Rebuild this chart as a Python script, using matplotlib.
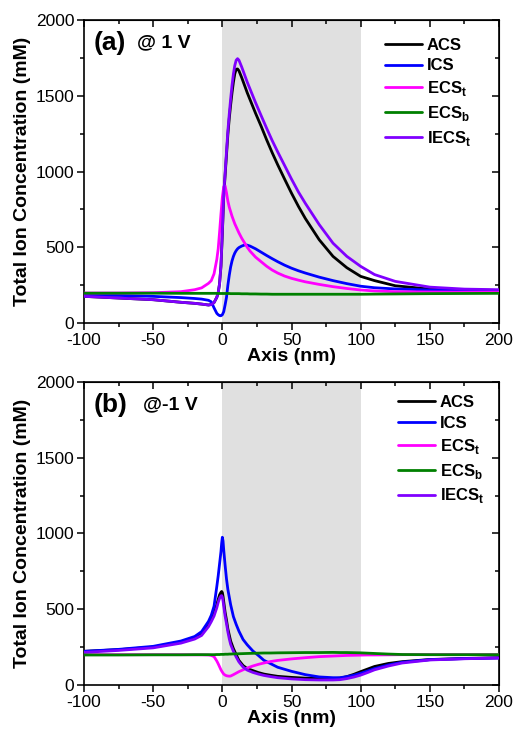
import matplotlib
matplotlib.use("Agg")
import matplotlib.pyplot as plt
from matplotlib.ticker import MultipleLocator

plt.rcParams['font.family'] = ['Liberation Sans', 'DejaVu Sans']
plt.rcParams['mathtext.fontset'] = 'custom'
plt.rcParams['mathtext.rm'] = 'Liberation Sans:bold'
plt.rcParams['mathtext.bf'] = 'Liberation Sans:bold'
plt.rcParams['axes.unicode_minus'] = False

# ---------------- panel (a): +1 V ----------------
xa = [-100, -75, -50, -30, -20, -15, -10, -8, -6, -4, -3, -2, -1, 0, 1, 2, 3, 4, 5, 6,
      7, 8, 9, 10, 11, 12, 14, 16, 18, 20, 24, 28, 32, 36, 40, 45, 50, 55, 60, 70,
      80, 90, 100, 110, 125, 150, 175, 200]
acs_a = [176, 165, 154, 137, 130, 125, 119, 122, 135, 170, 200, 260, 375, 590, 835, 975, 1110, 1245, 1350, 1440,
         1520, 1590, 1645, 1675, 1677, 1665, 1620, 1570, 1520, 1475, 1385, 1300, 1210, 1125, 1045, 950, 857, 770, 690, 550,
         440, 365, 308, 280, 246, 224, 218, 215]
ics_a = [187, 182, 176, 168, 162, 158, 150, 140, 100, 64, 55, 49, 48, 55, 75, 120, 170, 250, 315, 370,
         410, 440, 462, 478, 490, 498, 508, 515, 514, 508, 490, 468, 446, 425, 405, 382, 362, 345, 330, 303,
         280, 260, 243, 233, 225, 218, 214, 212]
ecst_a = [198, 198, 200, 207, 220, 232, 262, 280, 325, 420, 490, 600, 720, 830, 900, 905, 860, 805, 765, 735,
          705, 680, 655, 635, 615, 595, 560, 530, 500, 475, 435, 405, 375, 350, 330, 310, 295, 283, 272, 255,
          240, 228, 218, 212, 207, 205, 204, 204]
ecsb_a = [197, 197, 197, 196, 196, 196, 196, 196, 196, 196, 195, 195, 195, 195, 195, 195, 195, 195, 195, 194,
          194, 194, 194, 194, 194, 194, 193, 193, 193, 192, 192, 191, 191, 190, 190, 190, 190, 190, 190, 190,
          190, 190, 190, 191, 192, 194, 195, 196]
iecst_a = [176, 165, 154, 137, 130, 125, 119, 122, 135, 170, 200, 260, 380, 600, 850, 990, 1130, 1270, 1380, 1480,
           1570, 1645, 1700, 1735, 1745, 1735, 1690, 1640, 1590, 1545, 1455, 1370, 1286, 1205, 1130, 1040, 950, 865, 790, 650,
           527, 440, 374, 320, 275, 237, 224, 220]

# ---------------- panel (b): -1 V ----------------
xb = [-100, -75, -50, -30, -20, -15, -10, -8, -6, -4, -3, -2, -1, -0.5, 0, 0.5, 1, 2, 3, 4,
      5, 6, 8, 10, 12, 15, 18, 22, 26, 30, 35, 40, 50, 60, 70, 80, 85, 90, 95, 100,
      105, 110, 120, 130, 150, 175, 200]
acs_b = [222, 233, 250, 282, 310, 335, 395, 430, 470, 530, 565, 595, 612, 617, 610, 585, 550, 480, 429, 370,
         330, 290, 240, 200, 162, 128, 108, 95, 82, 72, 64, 57, 50, 45, 42, 42, 45, 55, 70, 88,
         105, 122, 142, 154, 168, 175, 180]
ics_b = [222, 235, 255, 290, 320, 352, 420, 460, 520, 650, 720, 800, 880, 935, 975, 950, 890, 790, 700, 630,
         580, 530, 451, 400, 355, 300, 265, 225, 195, 163, 140, 117, 90, 68, 53, 48, 48, 55, 64, 77,
         92, 108, 132, 150, 167, 174, 178]
ecst_b = [200, 200, 200, 200, 199, 199, 198, 195, 187, 158, 140, 120, 100, 92, 85, 78, 72, 65, 61, 59,
          58, 59, 68, 78, 88, 100, 112, 125, 136, 145, 155, 162, 172, 180, 187, 191, 193, 195, 196, 197,
          198, 198, 199, 200, 200, 200, 200]
ecsb_b = [198, 198, 199, 199, 200, 200, 200, 200, 200, 201, 201, 201, 202, 202, 202, 202, 202, 203, 203, 203,
          204, 204, 205, 205, 206, 207, 208, 209, 210, 211, 211, 212, 213, 214, 214, 215, 214, 214, 213, 212,
          210, 208, 204, 201, 200, 200, 200]
iecst_b = [215, 228, 245, 276, 303, 327, 385, 418, 455, 510, 545, 572, 588, 590, 580, 555, 520, 455, 405, 350,
           305, 268, 222, 185, 152, 118, 98, 83, 72, 63, 55, 48, 40, 35, 33, 33, 35, 42, 52, 65,
           82, 100, 125, 145, 165, 173, 178]

series_names = ['ACS', 'ICS', r'ECS$_\mathrm{t}$', r'ECS$_\mathrm{b}$', r'IECS$_\mathrm{t}$']
series_colors = ['#000000', '#0000ff', '#ff00ff', '#008000', '#8000ff']
series_z = [3, 3, 3, 5, 4]

panel_tags = ['(a)', '(b)']
panel_bias = ['@ 1 V', '@-1 V']

fig = plt.figure(figsize=(5.16, 7.34), dpi=100)
ax_top = fig.add_axes([0.1628, 0.5599, 0.8043, 0.4128])
ax_bot = fig.add_axes([0.1628, 0.0668, 0.8043, 0.4128])

panels = [
    (ax_top, xa, [acs_a, ics_a, ecst_a, ecsb_a, iecst_a], (0.725, 0.942), 0.128),
    (ax_bot, xb, [acs_b, ics_b, ecst_b, ecsb_b, iecst_b], (0.757, 0.957), 0.142),
]

for i, (ax, x, ys, leg_anchor, bias_x) in enumerate(panels):
    ax.axvspan(0, 100, color='#e0e0e0', zorder=0, lw=0)
    for y, name, col, z in zip(ys, series_names, series_colors, series_z):
        ax.plot(x, y, color=col, lw=2.0, label=name, zorder=z, solid_capstyle='round')

    ax.set_xlim(-100, 200)
    ax.set_ylim(0, 2000)
    ax.xaxis.set_major_locator(MultipleLocator(50))
    ax.xaxis.set_minor_locator(MultipleLocator(25))
    ax.yaxis.set_major_locator(MultipleLocator(500))
    ax.yaxis.set_minor_locator(MultipleLocator(250))
    ax.tick_params(which='both', direction='out', top=False, right=False,
                   labelsize=12.5, width=1.1, pad=2)
    ax.tick_params(which='major', length=5)
    ax.tick_params(which='minor', length=3)
    for s in ax.spines.values():
        s.set_linewidth(1.2)

    # mirrored inward ticks on top and right
    sec_x = ax.secondary_xaxis('top')
    sec_x.xaxis.set_major_locator(MultipleLocator(50))
    sec_x.xaxis.set_minor_locator(MultipleLocator(25))
    sec_x.tick_params(which='both', direction='in', labeltop=False, width=1.1)
    sec_x.tick_params(which='major', length=5)
    sec_x.tick_params(which='minor', length=3)
    sec_y = ax.secondary_yaxis('right')
    sec_y.yaxis.set_major_locator(MultipleLocator(500))
    sec_y.yaxis.set_minor_locator(MultipleLocator(250))
    sec_y.tick_params(which='both', direction='in', labelright=False, width=1.1)
    sec_y.tick_params(which='major', length=5)
    sec_y.tick_params(which='minor', length=3)

    ax.set_xlabel('Axis (nm)', fontsize=14, fontweight='bold', labelpad=0)
    ax.set_ylabel('Total Ion Concentration (mM)', fontsize=14, fontweight='bold', labelpad=3)

    ax.text(0.022, 0.925, panel_tags[i], transform=ax.transAxes, fontsize=19,
            fontweight='bold', va='center', ha='left')
    ax.text(bias_x, 0.925, panel_bias[i], transform=ax.transAxes,
            fontsize=14, fontweight='bold', va='center', ha='left')

    ax.legend(loc='upper left', bbox_to_anchor=leg_anchor, frameon=False,
              prop={'weight': 'bold', 'size': 12}, handlelength=2.2,
              handletextpad=0.3, labelspacing=0.35, borderaxespad=0, borderpad=0)

fig.savefig('out.png', dpi=100)
